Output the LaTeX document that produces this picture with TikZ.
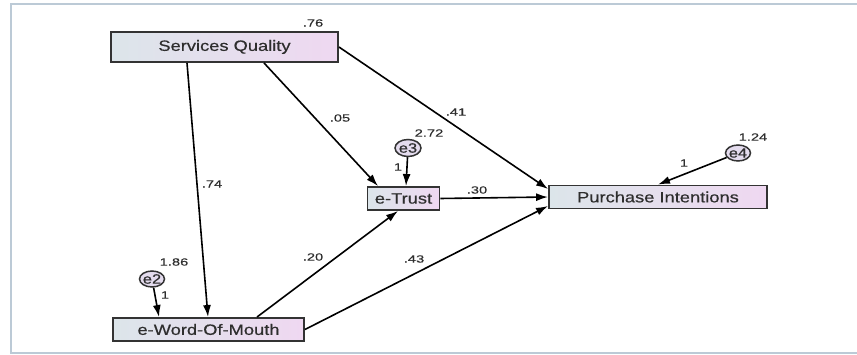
\documentclass[tikz,border=0pt]{standalone}
\usepackage{fontspec}
\setmainfont{Liberation Sans}
\newfontfamily\boxfont[FakeStretch=1.22,FakeBold=0.5]{Liberation Sans}
\newfontfamily\numfont[FakeStretch=1.4,FakeBold=0.3]{Liberation Sans}
\usetikzlibrary{arrows.meta,shapes.geometric}
\definecolor{framec}{HTML}{BCCAD6}
\definecolor{boxl}{HTML}{DCE5EA}
\definecolor{boxr}{HTML}{EFD8F1}
\definecolor{ellc}{HTML}{E4DCEE}
\definecolor{edgec}{HTML}{333333}
\definecolor{txtc}{HTML}{2E2E2E}
\begin{document}
\begin{tikzpicture}[x=1pt,y=-1pt,
  varbox/.style={draw=edgec, line width=1.9pt, left color=boxl, right color=boxr,
    inner sep=0pt, text=txtc, font=\boxfont\fontsize{15}{15}\selectfont},
  errnode/.style={draw=edgec, line width=1.5pt, fill=ellc, ellipse, inner sep=0pt,
    minimum width=25pt, minimum height=16pt},
  errlab/.style={text=txtc, font=\boxfont\fontsize{13.5}{14}\selectfont, inner sep=0pt},
  coef/.style={text=txtc, font=\numfont\fontsize{10.5}{11}\selectfont, inner sep=0pt},
  reg/.style={draw=black, line width=1.6pt, -{Latex[length=12pt,width=8pt]}}
]
\useasboundingbox (0,0) rectangle (857,355);
\draw[framec, line width=2pt] (857,4) -- (11,4) -- (11,353) -- (857,353);

% observed variables
\node[varbox, minimum width=227pt, minimum height=30pt] (SQ) at (224.5,47) {Services Quality};
\node[varbox, minimum width=72pt, minimum height=23pt] (ET) at (403.5,198.5) {e-Trust};
\node[varbox, minimum width=218pt, minimum height=23pt] (PI) at (658,197) {Purchase Intentions};
\node[varbox, minimum width=191pt, minimum height=23pt] (WM) at (208.5,329.5) {e-Word-Of-Mouth};

% error terms
\node[errnode, label={[errlab]center:e2}] (e2) at (152,279) {};
\node[errnode, minimum width=26pt, minimum height=17pt, label={[errlab]center:e3}] (e3) at (408,148) {};
\node[errnode, label={[errlab]center:e4}] (e4) at (738,153) {};

% paths
\draw[reg] ([xshift=-37.5pt]SQ.south) -- ([xshift=-0.5pt]WM.north);
\draw[reg] ([xshift=39.5pt]SQ.south) -- ([xshift=-25.5pt]ET.north);
\draw[reg] (SQ.east) -- ([yshift=8pt]PI.west);
\draw[reg] (ET.east) -- (PI.west);
\draw[reg] ([xshift=48.5pt]WM.north) -- ([xshift=-5.5pt]ET.south);
\draw[reg] (WM.east) -- ([yshift=-9pt]PI.west);
\draw[reg] (e2) -- ([xshift=-49.5pt]WM.north);
\draw[reg] (e3) -- ([xshift=2.5pt]ET.north);
\draw[reg] (e4) -- (PI.north);

% coefficients
\node[coef] (c76) at (313,23) {.76};
\node[coef] (c74) at (212,184) {.74};
\node[coef] (c05) at (340,118) {.05};
\node[coef] (c41) at (456,112) {.41};
\node[coef] (c272) at (429,133) {2.72};
\node[coef] (c1e3) at (398,167) {1};
\node[coef] (c30) at (477,190) {.30};
\node[coef] (c124) at (753,137) {1.24};
\node[coef] (c1e4) at (684,163) {1};
\node[coef] (c186) at (174,262) {1.86};
\node[coef] (c1e2) at (165,295) {1};
\node[coef] (c20) at (313,257) {.20};
\node[coef] (c43) at (414,259) {.43};
\end{tikzpicture}
\end{document}
